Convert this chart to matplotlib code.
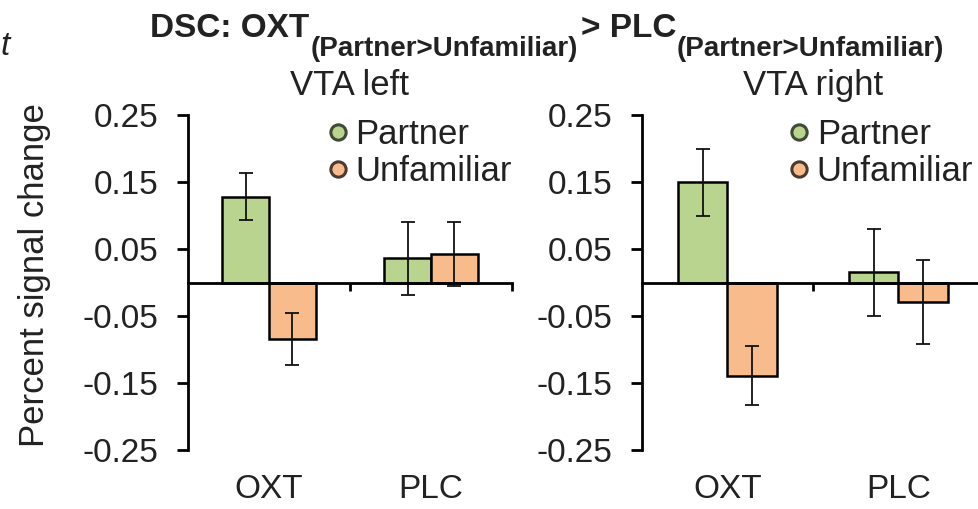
import numpy as np
import matplotlib.pyplot as plt
from matplotlib.lines import Line2D
from matplotlib.transforms import blended_transform_factory

plt.rcParams['font.family'] = ['Liberation Sans', 'DejaVu Sans']

# data
groups = ['OXT', 'PLC']
series = ['Partner', 'Unfamiliar']
left_partner = [0.128, 0.036]
left_partner_err = [0.035, 0.055]
left_unfam = [-0.084, 0.043]
left_unfam_err = [0.039, 0.048]
right_partner = [0.150, 0.015]
right_partner_err = [0.050, 0.065]
right_unfam = [-0.139, -0.029]
right_unfam_err = [0.044, 0.063]
yticks = [0.25, 0.15, 0.05, -0.05, -0.15, -0.25]
title_parts = [('DSC: OXT', False), ('(Partner>Unfamiliar)', True),
               ('> PLC', False), ('(Partner>Unfamiliar)', True)]

green = '#b9d48f'
orange = '#f8bb8c'
txt = '#222222'
fs = 24

W, H = 979, 509
fig = plt.figure(figsize=(W / 100, H / 100), dpi=100)
axL = fig.add_axes([188 / W, 59 / H, 324 / W, 335 / H])
axR = fig.add_axes([642 / W, 59 / H, 342 / W, 335 / H])


def panel(ax, p, pe, u, ue, title, leg_x):
    x = np.arange(len(groups)) + 0.5
    w = 0.29
    ax.bar(x - w / 2, p, w, color=green, edgecolor='black', linewidth=1.8, zorder=2)
    ax.bar(x + w / 2, u, w, color=orange, edgecolor='black', linewidth=1.8, zorder=2)
    ax.errorbar(x - w / 2, p, yerr=pe, fmt='none', ecolor='#111111', elinewidth=1.3,
                capsize=5, capthick=1.3, zorder=3)
    ax.errorbar(x + w / 2, u, yerr=ue, fmt='none', ecolor='#111111', elinewidth=1.3,
                capsize=5, capthick=1.3, zorder=3)
    ax.set_xlim(0, 2)
    ax.set_ylim(-0.25, 0.25)
    for s in ['top', 'right']:
        ax.spines[s].set_visible(False)
    ax.spines['left'].set_linewidth(2)
    ax.spines['bottom'].set_position(('data', 0))
    ax.spines['bottom'].set_linewidth(2)
    ax.spines['bottom'].set_zorder(4)
    ax.set_xticks([1, 2])
    ax.set_xticklabels([])
    ax.tick_params(axis='x', direction='out', length=6, width=2)
    ax.set_yticks(yticks)
    ax.set_yticklabels(['%.2f' % v for v in yticks])
    ax.tick_params(axis='y', direction='out', length=8, width=2, labelsize=fs,
                   labelcolor=txt, pad=13)
    trans = blended_transform_factory(ax.transData, ax.transAxes)
    for xi, g in zip(x, groups):
        ax.text(xi, -48 / 335, g, transform=trans, ha='center', va='baseline',
                fontsize=fs, color=txt)
    ax.text(0.5, 355 / 335, title, transform=ax.transAxes, ha='center', va='baseline',
            fontsize=25, color=txt)
    handles = [Line2D([], [], marker='o', ls='none', markersize=11, markerfacecolor=green,
                      markeredgecolor='#3f4a35', markeredgewidth=2.2),
               Line2D([], [], marker='o', ls='none', markersize=11, markerfacecolor=orange,
                      markeredgecolor='#4a3a30', markeredgewidth=2.2)]
    ax.legend(handles, series, loc='upper left', bbox_to_anchor=(leg_x, 0.99), frameon=False,
              fontsize=25, handlelength=0.6, handletextpad=0.2, labelspacing=0.1,
              borderaxespad=0, borderpad=0, labelcolor=txt)


panel(axL, left_partner, left_partner_err, left_unfam, left_unfam_err, 'VTA left', 0.43)
panel(axR, right_partner, right_partner_err, right_unfam, right_unfam_err, 'VTA right', 0.43)

fig.text(35 / W, 1 - 275 / H, 'Percent signal change', rotation=90, ha='center', va='center',
         fontsize=25, color=txt)

# bold title with low subscripts, placed piece by piece
renderer = fig.canvas.get_renderer()
x0 = 150
for s, sub in title_parts:
    y = 56 if sub else 37
    t = fig.text(x0 / W, 1 - y / H, s, fontsize=20 if sub else 24, fontweight='bold',
                 color=txt, ha='left', va='baseline')
    x0 += t.get_window_extent(renderer).width + (3 if sub else 1)

fig.text(0.0, 1 - 55 / H, 't', fontsize=fs, style='italic', color=txt)

fig.savefig('out.png', dpi=100)
